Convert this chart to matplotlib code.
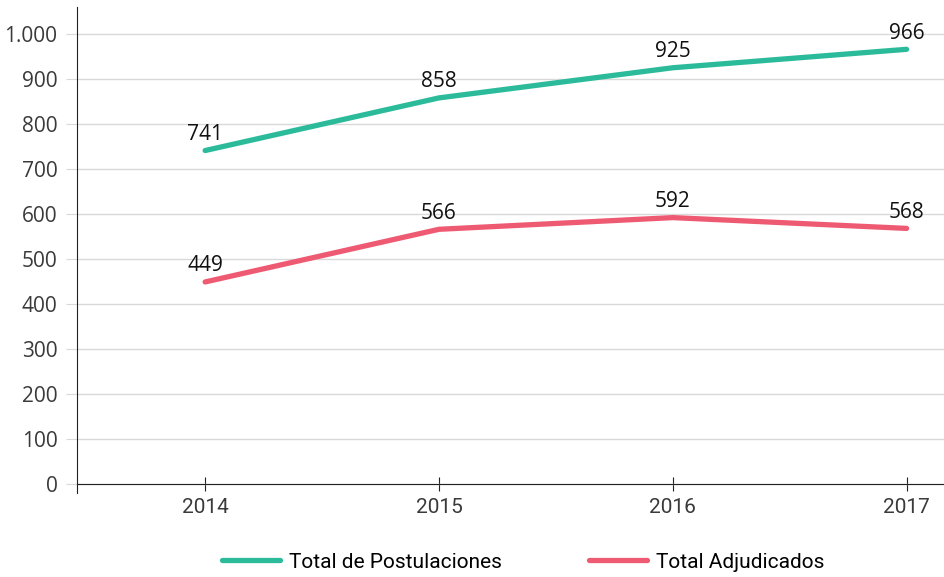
import matplotlib
matplotlib.use("Agg")
import matplotlib.pyplot as plt

years = ["2014", "2015", "2016", "2017"]
postulaciones = [741, 858, 925, 966]
adjudicados = [449, 566, 592, 568]
yticks = [0, 100, 200, 300, 400, 500, 600, 700, 800, 900, 1000]
ytick_labels = ["0", "100", "200", "300", "400", "500", "600", "700", "800", "900", "1.000"]

green = "#2bbb9b"
red = "#ef5a73"
narrow = ["Roboto", "DejaVu Sans"]

plt.rcParams["font.family"] = ["Open Sans", "DejaVu Sans"]

fig = plt.figure(figsize=(9.44, 5.77), dpi=100)
ax = fig.add_axes([77 / 944, 84 / 577, 867 / 944, 486 / 577])

x = list(range(len(years)))
ax.plot(x, postulaciones, color=green, lw=3.8, solid_capstyle="round", label="Total de Postulaciones", zorder=3)
ax.plot(x, adjudicados, color=red, lw=3.8, solid_capstyle="round", label="Total Adjudicados", zorder=3)

for xi, v in zip(x, postulaciones):
    ax.annotate(str(v), (xi, v), xytext=(0, 4), textcoords="offset points",
                ha="center", va="bottom", fontsize=15, color="#111111")
for xi, v in zip(x, adjudicados):
    ax.annotate(str(v), (xi, v), xytext=(0, 4), textcoords="offset points",
                ha="center", va="bottom", fontsize=15, color="#111111")

ax.set_xlim(-0.548, 3.16)
ax.set_ylim(-20, 1060)

ax.grid(axis="y", color="#d9d9d9", lw=1)
ax.set_axisbelow(True)
for s in ["top", "right"]:
    ax.spines[s].set_visible(False)
ax.spines["bottom"].set_position(("data", 0))
ax.spines["left"].set_color("#222222")
ax.spines["bottom"].set_color("#222222")
ax.tick_params(axis="y", length=8, color="#d9d9d9", pad=6)
ax.tick_params(axis="x", direction="inout", length=10, color="#222222", pad=5)

ax.set_yticks(yticks)
ax.set_yticklabels(ytick_labels, fontsize=15, color="#3a3a3a")
ax.set_xticks(x)
ax.set_xticklabels(years, fontsize=15, color="#3a3a3a", family=narrow)
ax.get_yticklines()[0].set_color("#222222")

fig.legend(loc="center", bbox_to_anchor=(523 / 944, 1 - 562 / 577), ncol=2, frameon=False,
           prop={"family": narrow, "size": 15},
           handlelength=2.8, handletextpad=0.4, columnspacing=4.2)

fig.savefig("out.png", dpi=100)
